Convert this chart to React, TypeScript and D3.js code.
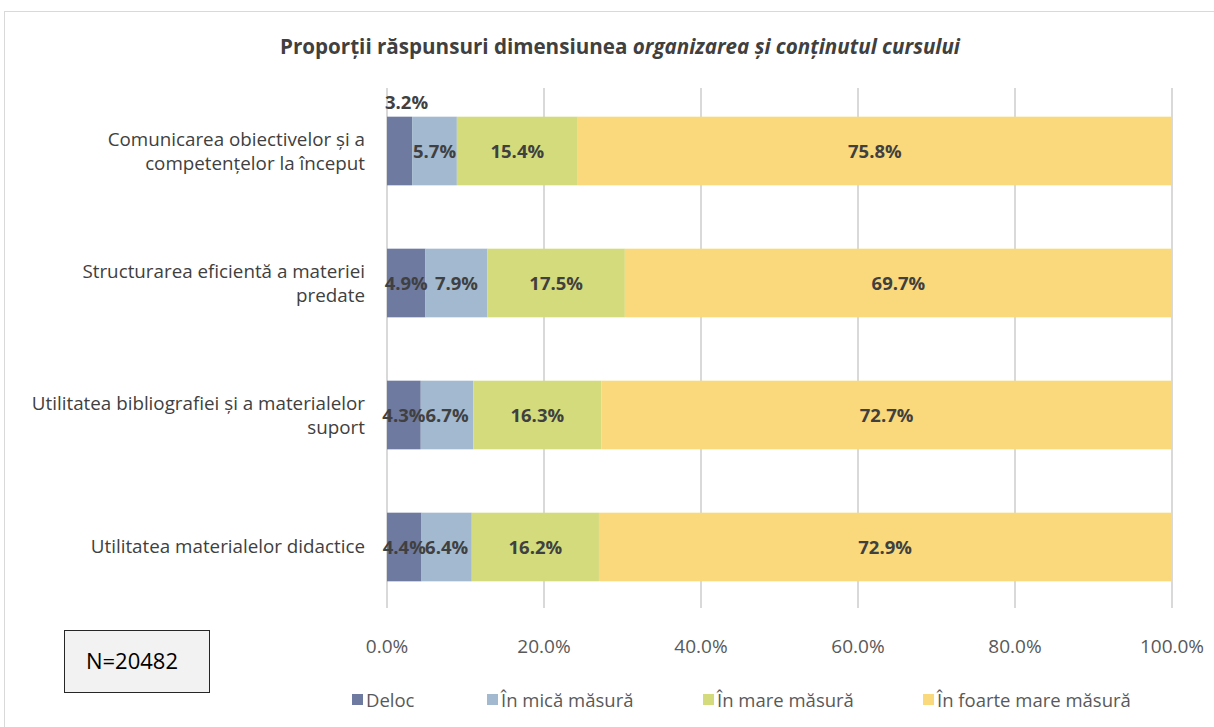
import React from "react";
import * as d3 from "d3";

const categories = [
  ["Comunicarea obiectivelor și a", "competențelor la început"],
  ["Structurarea eficientă a materiei", "predate"],
  ["Utilitatea bibliografiei și a materialelor", "suport"],
  ["Utilitatea materialelor didactice"],
];
const seriesNames = ["Deloc", "În mică măsură", "În mare măsură", "În foarte mare măsură"];
const deloc = [3.2, 4.9, 4.3, 4.4];
const mica = [5.7, 7.9, 6.7, 6.4];
const mare = [15.4, 17.5, 16.3, 16.2];
const foarteMare = [75.8, 69.7, 72.7, 72.9];
const colors = ["#6f7aa0", "#a2b9cf", "#d4db7c", "#f9d97c"];
const tickValues = [0, 20, 40, 60, 80, 100];

const FONT = "'Open Sans', 'Noto Sans', sans-serif";

export default function App() {
  const W = 1214, H = 727;
  const x = d3.scaleLinear().domain([0, 100]).range([387, 1172]);
  const y = d3.scaleBand().domain(categories.map((_, i) => String(i))).range([85, 613]).paddingInner(0.48).paddingOuter(0.24);
  const series = [deloc, mica, mare, foarteMare];
  const legendX = [352, 487, 703, 923];

  return (
    <svg width={W} height={H} style={{ position: "absolute", left: 0, top: 0 }} fontFamily={FONT}>
      <rect x={0} y={0} width={W} height={H} fill="#fff" />
      <rect x={4.5} y={11.5} width={W + 10} height={H + 10} fill="#fff" stroke="#d9d9d9" strokeWidth={1} />
      <text x={620} y={54} textAnchor="middle" fontSize={20.5} fontWeight="bold" fill="#404040" textLength={680} lengthAdjust="spacingAndGlyphs">
        Proporții răspunsuri dimensiunea <tspan fontStyle="italic">organizarea și conținutul cursului</tspan>
      </text>
      {tickValues.map((t) => (
        <g key={t}>
          <line x1={x(t)} x2={x(t)} y1={88} y2={608} stroke="#d9d9d9" strokeWidth={2} />
          <text x={x(t)} y={653} textAnchor="middle" fontSize={19} fill="#595959">{t.toFixed(1)}%</text>
        </g>
      ))}
      {categories.map((cat, i) => {
        const y0 = y(String(i))!;
        const bh = y.bandwidth();
        let cum = 0;
        const cy = y0 + bh / 2;
        return (
          <g key={i}>
            {series.map((s, j) => {
              const v = s[i];
              const a = cum;
              cum += v;
              const b = Math.min(cum, 100);
              return <rect key={j} x={x(a)} y={y0} width={x(b) - x(a)} height={bh} fill={colors[j]} />;
            })}
            {(() => {
              let c = 0;
              return series.map((s, j) => {
                const v = s[i];
                const a = c;
                c += v;
                const mid = (a + Math.min(c, 100)) / 2;
                if (i === 0 && j === 0) {
                  return <text key={j} x={x(0) - 2} y={y0 - 8} fontSize={18.5} fontWeight="bold" fill="#404040">{v.toFixed(1)}%</text>;
                }
                return <text key={j} x={x(mid)} y={cy + 7} textAnchor="middle" fontSize={18.5} fontWeight="bold" fill="#404040">{v.toFixed(1)}%</text>;
              });
            })()}
            <text x={365} textAnchor="end" fontSize={18.8} fill="#404040">
              {cat.length === 2 ? (
                <>
                  <tspan x={365} y={cy - 5}>{cat[0]}</tspan>
                  <tspan x={365} y={cy + 19}>{cat[1]}</tspan>
                </>
              ) : (
                <tspan x={365} y={cy + 6}>{cat[0]}</tspan>
              )}
            </text>
          </g>
        );
      })}
      <rect x={64.5} y={630.5} width={145} height={62} fill="#f2f2f2" stroke="#262626" strokeWidth={1} />
      <text x={132} y={669} textAnchor="middle" fontSize={22} fill="#000">N=20482</text>
      {seriesNames.map((n, j) => (
        <g key={n}>
          <rect x={legendX[j]} y={694} width={11} height={11} fill={colors[j]} />
          <text x={legendX[j] + 14} y={707} fontSize={18.5} fill="#595959">{n}</text>
        </g>
      ))}
    </svg>
  );
}
